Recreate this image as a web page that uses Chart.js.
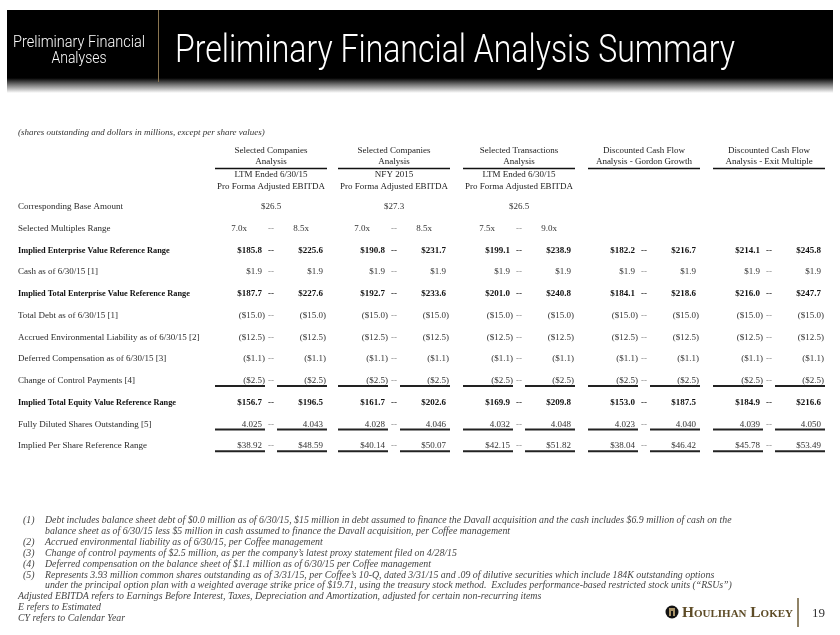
<!DOCTYPE html>
<html lang="en">
<head>
<meta charset="UTF-8">
<title>Preliminary Financial Analysis Summary</title>
<script src="https://cdn.jsdelivr.net/npm/chart.js"></script>
<style>
  html, body { margin: 0; padding: 0; background: #fff; }
  #resumo { display: block; }
</style>
</head>
<body>
<canvas id="resumo" width="840" height="635"></canvas>
<script>
// ---- dados da tabela ----
const rowLabels = [
  'Corresponding Base Amount',
  'Selected Multiples Range',
  'Implied Enterprise Value Reference Range',
  'Cash as of 6/30/15 [1]',
  'Implied Total Enterprise Value Reference Range',
  'Total Debt as of 6/30/15 [1]',
  'Accrued Environmental Liability as of 6/30/15 [2]',
  'Deferred Compensation as of 6/30/15 [3]',
  'Change of Control Payments [4]',
  'Implied Total Equity Value Reference Range',
  'Fully Diluted Shares Outstanding [5]',
  'Implied Per Share Reference Range'
];
const boldRows = [2, 4, 9];
const rowFormat = ['money1', 'mult', 'money1', 'money1', 'money1', 'money1', 'money1', 'money1', 'money1', 'money1', 'shares', 'money2'];

const groupTitles = [
  ['Selected Companies', 'Analysis'],
  ['Selected Companies', 'Analysis'],
  ['Selected Transactions', 'Analysis'],
  ['Discounted Cash Flow', 'Analysis - Gordon Growth'],
  ['Discounted Cash Flow', 'Analysis - Exit Multiple']
];
const groupBasis = [
  ['LTM Ended 6/30/15', 'Pro Forma Adjusted EBITDA'],
  ['NFY 2015', 'Pro Forma Adjusted EBITDA'],
  ['LTM Ended 6/30/15', 'Pro Forma Adjusted EBITDA'],
  [],
  []
];

const baseAmount   = [26.5, 27.3, 26.5, null, null];
const multLow      = [7.0, 7.0, 7.5, null, null];
const multHigh     = [8.5, 8.5, 9.0, null, null];
const evLow        = [185.8, 190.8, 199.1, 182.2, 214.1];
const evHigh       = [225.6, 231.7, 238.9, 216.7, 245.8];
const cashAmt      = [1.9, 1.9, 1.9, 1.9, 1.9];
const tevLow       = [187.7, 192.7, 201.0, 184.1, 216.0];
const tevHigh      = [227.6, 233.6, 240.8, 218.6, 247.7];
const totalDebt    = [-15.0, -15.0, -15.0, -15.0, -15.0];
const accruedEnv   = [-12.5, -12.5, -12.5, -12.5, -12.5];
const deferredComp = [-1.1, -1.1, -1.1, -1.1, -1.1];
const changeCtrl   = [-2.5, -2.5, -2.5, -2.5, -2.5];
const equityLow    = [156.7, 161.7, 169.9, 153.0, 184.9];
const equityHigh   = [196.5, 202.6, 209.8, 187.5, 216.6];
const sharesLow    = [4.025, 4.028, 4.032, 4.023, 4.039];
const sharesHigh   = [4.043, 4.046, 4.048, 4.040, 4.050];
const perShareLow  = [38.92, 40.14, 42.15, 38.04, 45.78];
const perShareHigh = [48.59, 50.07, 51.82, 46.42, 53.49];

const footnotes = [
  ['(1)', 'Debt includes balance sheet debt of $0.0 million as of 6/30/15, $15 million in debt assumed to finance the Davall acquisition and the cash includes $6.9 million of cash on the'],
  ['', 'balance sheet as of 6/30/15 less $5 million in cash assumed to finance the Davall acquisition, per Coffee management'],
  ['(2)', 'Accrued environmental liability as of 6/30/15, per Coffee management'],
  ['(3)', 'Change of control payments of $2.5 million, as per the company\u2019s latest proxy statement filed on 4/28/15'],
  ['(4)', 'Deferred compensation on the balance sheet of $1.1 million as of 6/30/15 per Coffee management'],
  ['(5)', 'Represents 3.93 million common shares outstanding as of 3/31/15, per Coffee\u2019s 10-Q, dated 3/31/15 and .09 of dilutive securities which include 184K outstanding options'],
  ['', 'under the principal option plan with a weighted average strike price of $19.71, using the treasury stock method.  Excludes performance-based restricted stock units (\u201cRSUs\u201d)']
];
const notesPlain = [
  'Adjusted EBITDA refers to Earnings Before Interest, Taxes, Depreciation and Amortization, adjusted for certain non-recurring items',
  'E refers to Estimated',
  'CY refers to Calendar Year'
];

// ---- layout ----
const groupLeft = [215, 338, 463, 588, 713];
const SERIF = "'Liberation Serif', 'Times New Roman', serif";
const NARROW = "Roboto, 'Liberation Sans', sans-serif";

const tableLow  = [null, multLow, evLow, cashAmt, tevLow, totalDebt, accruedEnv, deferredComp, changeCtrl, equityLow, sharesLow, perShareLow];
const tableHigh = [null, multHigh, evHigh, cashAmt, tevHigh, totalDebt, accruedEnv, deferredComp, changeCtrl, equityHigh, sharesHigh, perShareHigh];

function formatar(v, kind) {
  if (kind === 'mult') return v.toFixed(1) + 'x';
  if (kind === 'shares') return v.toFixed(3);
  const s = '$' + Math.abs(v).toFixed(kind === 'money2' ? 2 : 1);
  return v < 0 ? '(' + s + ')' : s;
}

// monta os datasets (um ponto por celula)
const datasets = [];
groupLeft.forEach(function (L, g) {
  const base = [], low = [], high = [];
  if (baseAmount[g] !== null) {
    base.push({ x: L + 56, y: rowLabels[0], v: baseAmount[g], r: 0, g: g, align: 'center' });
  }
  for (let r = 1; r < rowLabels.length; r++) {
    const lo = tableLow[r][g], hi = tableHigh[r][g];
    if (lo === null) continue;
    const mult = rowFormat[r] === 'mult';
    low.push({ x: L + (mult ? 32 : 47), y: rowLabels[r], v: lo, r: r, g: g, align: 'right', side: 'low' });
    high.push({ x: L + (mult ? 94 : 108), y: rowLabels[r], v: hi, r: r, g: g, align: 'right', side: 'high' });
  }
  datasets.push({ label: 'base' + g, data: base, pointRadius: 0 });
  datasets.push({ label: 'low' + g, data: low, pointRadius: 0 });
  datasets.push({ label: 'high' + g, data: high, pointRadius: 0 });
});

function fitText(ctx, text, x, y, width, align) {
  const w = ctx.measureText(text).width;
  const k = width / w;
  ctx.save();
  ctx.translate(x, y);
  ctx.scale(k, 1);
  ctx.textAlign = align;
  ctx.fillText(text, 0, 0);
  ctx.restore();
}

const tabelaPlugin = {
  id: 'tabela',
  beforeDraw(chart) {
    const ctx = chart.ctx;
    ctx.save();
    ctx.fillStyle = '#fff';
    ctx.fillRect(0, 0, chart.width, chart.height);

    // cabecalho preto
    ctx.fillStyle = '#000';
    ctx.fillRect(7, 10, 826, 69);
    const grad = ctx.createLinearGradient(0, 78, 0, 93);
    grad.addColorStop(0, '#000');
    grad.addColorStop(0.45, '#777');
    grad.addColorStop(1, '#fff');
    ctx.fillStyle = grad;
    ctx.fillRect(7, 78, 826, 15);
    ctx.strokeStyle = '#8a7550';
    ctx.lineWidth = 1;
    ctx.beginPath();
    ctx.moveTo(158.5, 10);
    ctx.lineTo(158.5, 82);
    ctx.stroke();

    ctx.fillStyle = '#fff';
    ctx.textBaseline = 'alphabetic';
    ctx.font = '300 16px ' + NARROW;
    fitText(ctx, 'Preliminary Financial', 79, 47, 132, 'center');
    fitText(ctx, 'Analyses', 79, 63, 55, 'center');
    ctx.font = '300 39px ' + NARROW;
    fitText(ctx, 'Preliminary Financial Analysis Summary', 175, 62, 560, 'left');
    ctx.restore();
  },
  afterDatasetsDraw(chart) {
    const ctx = chart.ctx;
    const xs = chart.scales.x, ys = chart.scales.y;
    const y0 = ys.getPixelForValue(0);
    ctx.save();

    // nota de unidades
    ctx.fillStyle = '#333';
    ctx.font = 'italic 9px ' + SERIF;
    ctx.textBaseline = 'middle';
    ctx.textAlign = 'left';
    ctx.fillText('(shares outstanding and dollars in millions, except per share values)', 18, y0 - 74);

    // titulos das colunas
    groupLeft.forEach(function (L, g) {
      const cx = xs.getPixelForValue(L + 56);
      ctx.fillStyle = '#222';
      ctx.font = '9px ' + SERIF;
      ctx.textAlign = 'center';
      ctx.fillText(groupTitles[g][0], cx, y0 - 56);
      ctx.fillText(groupTitles[g][1], cx, y0 - 45);
      groupBasis[g].forEach(function (t, i) {
        ctx.fillText(t, cx, y0 - 32 + i * 12);
      });
      ctx.strokeStyle = '#111';
      ctx.lineWidth = 1.5;
      ctx.beginPath();
      ctx.moveTo(xs.getPixelForValue(L), y0 - 38.5);
      ctx.lineTo(xs.getPixelForValue(L + 112), y0 - 38.5);
      ctx.stroke();
    });

    // rotulos das linhas
    ctx.textAlign = 'left';
    rowLabels.forEach(function (lab, r) {
      const bold = boldRows.indexOf(r) >= 0;
      ctx.fillStyle = bold ? '#111' : '#2a2a2a';
      ctx.font = (bold ? 'bold 8.3px ' : '9px ') + SERIF;
      ctx.fillText(lab, 18, ys.getPixelForValue(r));
    });

    // celulas
    chart.data.datasets.forEach(function (ds, di) {
      const meta = chart.getDatasetMeta(di);
      meta.data.forEach(function (el, i) {
        const p = ds.data[i];
        const bold = boldRows.indexOf(p.r) >= 0;
        const L = groupLeft[p.g];
        ctx.font = (bold ? 'bold ' : '') + '9px ' + SERIF;
        ctx.fillStyle = bold ? '#111' : '#333';
        ctx.textAlign = p.align;
        const txt = formatar(p.v, rowFormat[p.r]);
        const shift = (p.v < 0 && p.align === 'right') ? 3 : 0;
        ctx.fillText(txt, el.x + shift, el.y);

        if (p.side === 'low') {
          ctx.fillStyle = bold ? '#222' : '#888';
          ctx.textAlign = 'center';
          ctx.fillText('--', xs.getPixelForValue(L + 56), el.y);
        }
        // sublinhados
        if (p.side && (p.r === 8 || p.r === 10 || p.r === 11)) {
          const a = p.side === 'low' ? L : L + 62;
          ctx.strokeStyle = '#222';
          ctx.lineWidth = 2;
          ctx.beginPath();
          ctx.moveTo(xs.getPixelForValue(a), el.y + 5);
          ctx.lineTo(xs.getPixelForValue(a + 50), el.y + 5);
          ctx.stroke();
        }
      });
    });
    ctx.restore();
  },
  afterDraw(chart) {
    const ctx = chart.ctx;
    ctx.save();
    ctx.fillStyle = '#444';
    ctx.font = 'italic 9.85px ' + SERIF;
    ctx.textBaseline = 'middle';
    ctx.textAlign = 'left';
    let y = 520.7;
    footnotes.forEach(function (n) {
      if (n[0]) ctx.fillText(n[0], 23, y);
      ctx.fillText(n[1], 45, y);
      y += 10.85;
    });
    notesPlain.forEach(function (t) {
      ctx.fillText(t, 18, y);
      y += 10.85;
    });

    // rodape
    ctx.fillStyle = '#141414';
    ctx.beginPath();
    ctx.arc(672, 612, 6.5, 0, Math.PI * 2);
    ctx.fill();
    ctx.fillStyle = '#a89368';
    ctx.fillRect(669, 608, 6, 8);
    ctx.fillStyle = '#141414';
    ctx.fillRect(671, 611, 2, 5);

    ctx.fillStyle = '#5e4c27';
    ctx.font = 'small-caps bold 14px ' + SERIF;
    ctx.textBaseline = 'alphabetic';
    fitText(ctx, 'Houlihan Lokey', 682, 617, 111, 'left');
    ctx.strokeStyle = '#6b5a35';
    ctx.lineWidth = 1.5;
    ctx.beginPath();
    ctx.moveTo(798, 598);
    ctx.lineTo(798, 627);
    ctx.stroke();
    ctx.fillStyle = '#333';
    ctx.font = '13px ' + SERIF;
    ctx.fillText('19', 812, 617);
    ctx.restore();
  }
};

new Chart(document.getElementById('resumo'), {
  type: 'scatter',
  data: { datasets: datasets },
  options: {
    responsive: false,
    animation: false,
    layout: { padding: { top: 196, bottom: 178, left: 0, right: 0 } },
    plugins: { legend: { display: false }, tooltip: { enabled: false } },
    scales: {
      x: { type: 'linear', min: 0, max: 840, display: false },
      y: { type: 'category', labels: rowLabels, offset: true, display: false }
    }
  },
  plugins: [tabelaPlugin]
});
</script>
</body>
</html>
